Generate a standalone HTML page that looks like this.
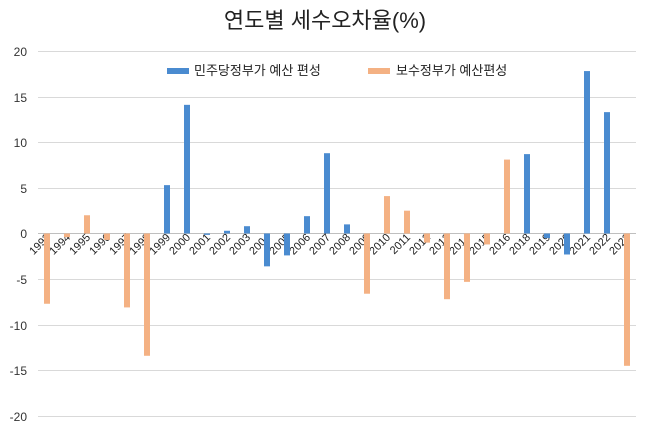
<!DOCTYPE html>
<html><head><meta charset="utf-8"><style>
body{margin:0;background:#fff;}
svg{display:block;font-family:"Liberation Sans","Noto Sans CJK KR",sans-serif;}
</style></head><body>
<svg width="650" height="423" viewBox="0 0 650 423" xmlns="http://www.w3.org/2000/svg">
<text x="325" y="28" font-size="22" text-anchor="middle" fill="#222">연도별 세수오차율(%)</text>
<g stroke="#d9d9d9" stroke-width="1">
<line x1="38" x2="636" y1="51.5" y2="51.5"/>
<line x1="38" x2="636" y1="97.5" y2="97.5"/>
<line x1="38" x2="636" y1="142.5" y2="142.5"/>
<line x1="38" x2="636" y1="188.5" y2="188.5"/>
<line x1="38" x2="636" y1="279.5" y2="279.5"/>
<line x1="38" x2="636" y1="325.5" y2="325.5"/>
<line x1="38" x2="636" y1="370.5" y2="370.5"/>
<line x1="38" x2="636" y1="416.5" y2="416.5"/>
</g>
<g font-size="12" fill="#333" text-anchor="end">
<text x="27" y="56">20</text><text x="27" y="102">15</text><text x="27" y="147">10</text>
<text x="27" y="193">5</text><text x="27" y="238">0</text><text x="27" y="284">-5</text>
<text x="27" y="330">-10</text><text x="27" y="375">-15</text><text x="27" y="421">-20</text>
</g>
<rect x="167" y="68" width="22" height="6" fill="#4a8bd0"/>
<text x="194" y="75" font-size="13" fill="#222">민주당정부가 예산 편성</text>
<rect x="368" y="68" width="22" height="6" fill="#f4b183"/>
<text x="396" y="75" font-size="13" fill="#222">보수정부가 예산편성</text>
<line x1="38" x2="636" y1="233.5" y2="233.5" stroke="#bfbfbf"/>
<g id="labels" font-size="11" fill="#222"></g>
<g id="bars"></g>
<script>
var yrs=[1993,1994,1995,1996,1997,1998,1999,2000,2001,2002,2003,2004,2005,2006,2007,2008,2009,2010,2011,2012,2013,2014,2015,2016,2018,2019,2020,2021,2022,2023];
var v=[-7.7,-0.4,2.0,-0.7,-8.1,-13.4,5.3,14.1,-0.15,0.3,0.8,-3.6,-2.4,1.9,8.8,1.0,-6.6,4.1,2.5,-1.0,-7.2,-5.3,-1.2,8.1,8.7,-0.5,-2.3,17.8,13.3,-14.5];
var c=["o","o","o","o","o","o","b","b","b","b","b","b","b","b","b","b","o","o","o","o","o","o","o","o","b","b","b","b","b","o"];
var ns="http://www.w3.org/2000/svg",B=document.getElementById("bars"),L=document.getElementById("labels");
for(var i=0;i<30;i++){var cx=47+20*i,h=v[i]*9.125,r=document.createElementNS(ns,"rect");
r.setAttribute("x",cx-3);r.setAttribute("width",6);r.setAttribute("y",h>0?233.5-h:233.5);r.setAttribute("height",Math.abs(h));
r.setAttribute("fill",c[i]=="b"?"#4a8bd0":"#f4b183");B.appendChild(r);
var t=document.createElementNS(ns,"text");t.setAttribute("transform","translate("+(cx+4)+",238) rotate(-45)");
t.setAttribute("text-anchor","end");t.textContent=yrs[i];L.appendChild(t);}
</script>
</svg>
</body></html>
